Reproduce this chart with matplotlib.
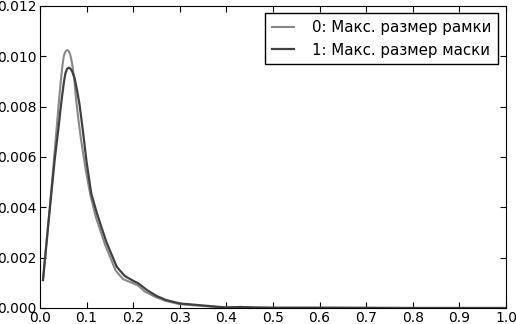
import matplotlib
matplotlib.use('Agg')
import matplotlib.pyplot as plt

# Values (density curves)
x0 = [0.0064, 0.0205, 0.029, 0.04, 0.044, 0.048, 0.051, 0.0535, 0.056, 0.0586, 0.0615, 0.064,
      0.067, 0.070, 0.074, 0.078, 0.083, 0.088, 0.098, 0.108, 0.12, 0.14, 0.162, 0.178, 0.2,
      0.21, 0.225, 0.25, 0.27, 0.3, 0.35, 0.38, 0.4, 0.43, 0.46, 0.5, 0.6, 0.8, 1.0]
y0 = [0.00111, 0.0039, 0.00568, 0.00807, 0.0089, 0.0096, 0.0100, 0.01015, 0.01022, 0.01025,
      0.01021, 0.01012, 0.0099, 0.0096, 0.0090, 0.0082, 0.0074, 0.0067, 0.0055, 0.0045,
      0.0036, 0.0025, 0.0015, 0.00115, 0.00098, 0.0009, 0.00065, 0.00042, 0.00028, 0.00015,
      0.00008, 0.00004, 0.00002, 0.00004, 0.00002, 0.00001, 0.00001, 0.0, 0.0]

x1 = [0.0064, 0.0208, 0.0315, 0.04, 0.044, 0.048, 0.0515, 0.0545, 0.058, 0.0615, 0.065, 0.069,
      0.0744, 0.08, 0.085, 0.093, 0.1, 0.11, 0.1216, 0.132, 0.143, 0.1645, 0.182, 0.2, 0.211,
      0.229, 0.25, 0.27, 0.3, 0.35, 0.38, 0.4, 0.43, 0.46, 0.5, 0.6, 0.8, 1.0]
y1 = [0.00111, 0.00389, 0.00588, 0.0072, 0.0079, 0.0085, 0.0090, 0.00932, 0.0095, 0.00955,
      0.00952, 0.0094, 0.00913, 0.0086, 0.00807, 0.0069, 0.0058, 0.00455, 0.0038, 0.0032,
      0.0026, 0.00164, 0.00127, 0.00108, 0.00098, 0.00072, 0.00048, 0.00032, 0.00018,
      0.0001, 0.00005, 0.00002, 0.00004, 0.00002, 0.00001, 0.00001, 0.0, 0.0]

labels = ['0: Макс. размер рамки', '1: Макс. размер маски']

plt.rcParams['font.family'] = ['DejaVu Sans']
plt.rcParams['font.size'] = 10

fig = plt.figure(figsize=(5.16, 3.24), dpi=100)
ax = fig.add_axes([0.0775, 0.0494, 0.9031, 0.9321])

ax.plot(x0, y0, color='#888888', linewidth=1.5, label=labels[0])
ax.plot(x1, y1, color='#404040', linewidth=1.6, label=labels[1])

ax.set_xlim(0, 1.0)
ax.set_ylim(0, 0.012)
ax.set_xticks([i / 10 for i in range(11)])
ax.set_yticks([0.0, 0.002, 0.004, 0.006, 0.008, 0.010, 0.012])
ax.set_yticklabels(['0.000', '0.002', '0.004', '0.006', '0.008', '0.010', '0.012'])
ax.tick_params(axis='both', direction='in', top=True, right=True, length=4, labelsize=10)
ax.tick_params(axis='x', pad=2.5)
ax.tick_params(axis='y', pad=2.5)

# Legend in the upper right, square frame
leg = ax.legend(loc='upper right', fancybox=False, framealpha=1, edgecolor='black',
                fontsize=10.8, borderaxespad=0.5, handlelength=1.5, handletextpad=1.2,
                borderpad=0.45)
leg.get_frame().set_linewidth(1.0)

fig.savefig('out.png', dpi=100, facecolor='white')
